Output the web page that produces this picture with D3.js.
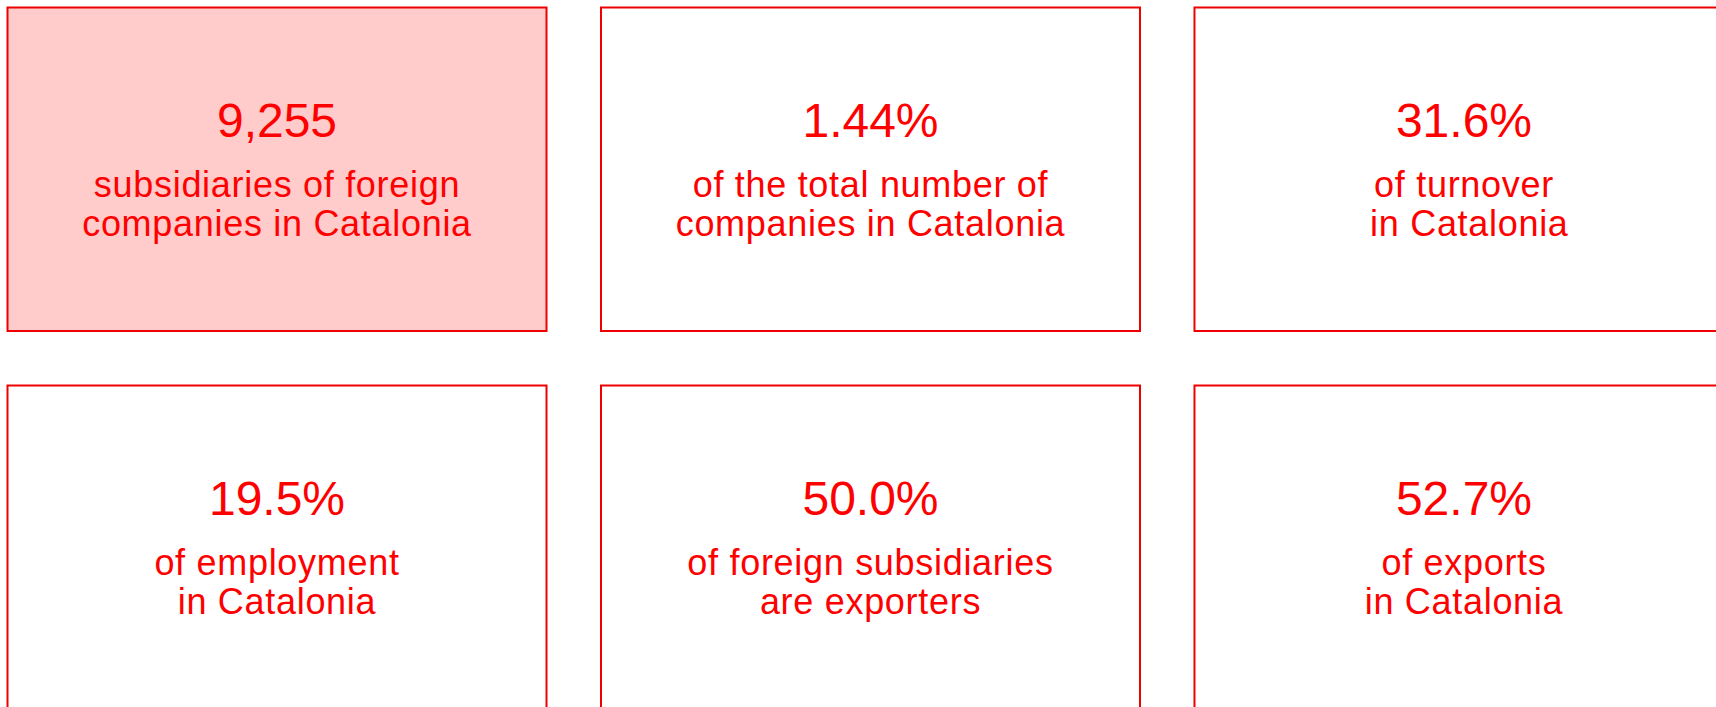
<!DOCTYPE html>
<html>
<head>
<meta charset="utf-8">
<script src="https://cdn.jsdelivr.net/npm/d3@7"></script>
<style>
  html, body { margin: 0; padding: 0; background: #fff; overflow: hidden; }
  .figure { font-family: "Helvetica Neue", Helvetica, "Liberation Sans", Arial, sans-serif; fill: #ff0000; }
</style>
</head>
<body>
<div id="cards"></div>
<script>
var svgWidth = 1716;
var svgHeight = 707;

// values shown on the cards, in reading order
var figures = ["9,255", "1.44%", "31.6%", "19.5%", "50.0%", "52.7%"];
var captionLine1 = ["subsidiaries of foreign", "of the total number of", "of turnover", "of employment", "of foreign subsidiaries", "of exports"];
var captionLine2 = ["companies in Catalonia", "companies in Catalonia", " in Catalonia", "in Catalonia", "are exporters", "in Catalonia"];
var highlighted = [true, false, false, false, false, false];
var columns = [0, 1, 2];
var rows = [0, 1];

var cards = figures.map(function (f, i) {
  return {
    figure: f,
    lines: [captionLine1[i], captionLine2[i]],
    on: highlighted[i],
    col: i % 3,
    row: Math.floor(i / 3)
  };
});

var svg = d3.select("#cards")
  .append("svg")
  .attr("width", svgWidth)
  .attr("height", svgHeight);

// grid of cards, last column runs past the right edge
var xBand = d3.scaleBand()
  .domain(columns)
  .range([7.5, 1733.5])
  .paddingInner(0.0918)
  .paddingOuter(0);

var yBand = d3.scaleBand()
  .domain(rows)
  .range([7.5, 709])
  .paddingInner(0.1442)
  .paddingOuter(0);

var cardGroup = svg.selectAll("g.card")
  .data(cards)
  .enter()
  .append("g")
  .attr("class", "card")
  .attr("transform", d => `translate(${xBand(d.col)}, ${yBand(d.row)})`);

cardGroup.append("rect")
  .attr("width", xBand.bandwidth())
  .attr("height", yBand.bandwidth())
  .attr("fill", d => d.on ? "#ffcbcb" : "#ffffff")
  .attr("stroke", "#ee0000")
  .attr("stroke-width", 2);

cardGroup.append("text")
  .attr("class", "figure")
  .attr("x", xBand.bandwidth() / 2)
  .attr("y", 129)
  .attr("text-anchor", "middle")
  .attr("font-size", "48px")
  .text(d => d.figure);

var caption = cardGroup.append("text")
  .attr("class", "figure")
  .attr("text-anchor", "middle")
  .attr("font-size", "36px")
  .attr("letter-spacing", "0.7px")
  .style("white-space", "pre");

caption.selectAll("tspan")
  .data(d => d.lines)
  .enter()
  .append("tspan")
  .attr("x", xBand.bandwidth() / 2)
  .attr("y", (d, i) => 189 + i * 39)
  .text(d => d);
</script>
</body>
</html>
